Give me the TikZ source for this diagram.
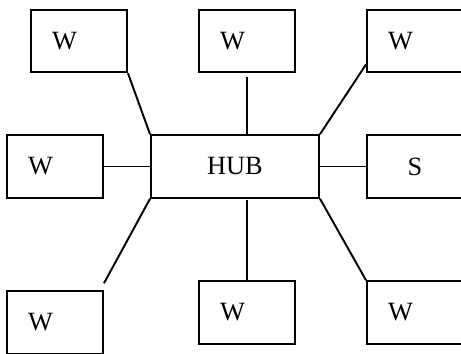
\documentclass[tikz,border=0pt]{standalone}
\usepackage{fontspec}
\setmainfont{Liberation Serif}
\begin{document}
\begin{tikzpicture}[x=0.02cm, y=-0.02cm,
  box/.style={draw, line width=1.1pt, minimum height=1.25cm, font=\fontsize{15}{18}\selectfont},
  wbox/.style={box, text width=1.08cm, inner xsep=0.42cm, align=left},
  link/.style={line width=1.1pt}]
   \clip (0,0) rectangle (461,354);
   \node[wbox] (wtl) at (79,41) {W};
   \node[wbox] (wtc) at (247,41) {W};
   \node[wbox] (wtr) at (415,41) {W};
   \node[wbox] (wml) at (55,166.5) {W};
   \node[box, minimum width=3.36cm] (hub) at (235,166.5) {HUB};
   \node[box, minimum width=1.92cm] (srv) at (415,166.5) {S};
   \node[wbox] (wbl) at (55,322.5) {W};
   \node[wbox] (wbc) at (247,312.5) {W};
   \node[wbox] (wbr) at (415,312.5) {W};
   \draw[link] (wtl.south east) -- (hub.north west);
   \draw[link, shorten <=2pt] (wtc.south) -- (wtc.south |- hub.north);
   \draw[link] ([yshift=5pt]wtr.south west) -- (hub.north east);
   \draw[link] (wml.east) -- (hub.west);
   \draw[link] (hub.east) -- (srv.west);
   \draw[link] (hub.south west) -- ([yshift=4pt]wbl.north east);
   \draw[link, shorten <=1pt] (wbc.north |- hub.south) -- (wbc.north);
   \draw[link] (hub.south east) -- (wbr.north west);
\end{tikzpicture}
\end{document}
